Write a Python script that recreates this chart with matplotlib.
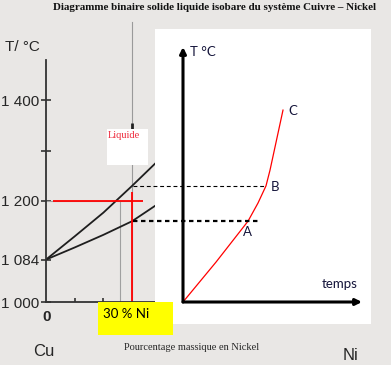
import matplotlib
matplotlib.use("Agg")
import matplotlib.pyplot as plt
from matplotlib.patches import Rectangle

W, H = 391, 365

# phase diagram (wt % Ni, T in degC)
ni_pct = [0, 10, 20, 30, 40]
liquidus = [1084, 1130, 1177, 1230, 1285]
solidus = [1084, 1108, 1133, 1160, 1198]
y_ticks = [1000, 1084, 1200, 1300, 1400]
y_labels = ["1 000", "1 084", "1 200", "", "1 400"]
x_ticks = [10, 20]
c_alloy = 30
t_mark = 1200

# cooling curve (arbitrary time units, T in degC)
temps = [0, 3.3, 6.5, 7.5, 8.3, 8.7, 10.0]
temp_curve = [1000, 1079, 1160, 1196, 1230, 1261, 1380]
t_A, T_A = 6.5, 1160
t_B, T_B = 8.3, 1230

BG = "#e9e7e5"
DARK = "#262626"
NAVY = "#14143a"


def px_box(x0, y0, x1, y1):
    return [x0 / W, 1 - y1 / H, (x1 - x0) / W, (y1 - y0) / H]


def add_rect(x0, y0, x1, y1, color, z):
    b = px_box(x0, y0, x1, y1)
    fig.add_artist(Rectangle((b[0], b[1]), b[2], b[3], transform=fig.transFigure,
                             facecolor=color, edgecolor="none", zorder=z))


fig = plt.figure(figsize=(W / 100, H / 100), dpi=100, facecolor=BG)

# ---- scanned binary diagram ----
ax1 = fig.add_axes(px_box(46, 60, 391, 302))
ax1.set_zorder(0)
ax1.patch.set_visible(False)
ax1.set_xlim(0, 345 / 2.87)
ax1.set_ylim(1000, 1000 + 242 / 0.505)
for s in ["top", "right"]:
    ax1.spines[s].set_visible(False)
for s in ["left", "bottom"]:
    ax1.spines[s].set_color("#333333")
    ax1.spines[s].set_linewidth(1.3)
ax1.spines["bottom"].set_bounds(0, 38)
ax1.set_yticks(y_ticks)
ax1.set_yticklabels(y_labels, family="Liberation Sans", fontsize=11, color=DARK)
ax1.set_xticks(x_ticks)
ax1.set_xticklabels([])
ax1.tick_params(axis="y", direction="inout", length=7, width=1.2, color="#333333", pad=1.5)
ax1.tick_params(axis="x", direction="in", length=3, width=1.2, color="#333333")
ax1.plot(0, 1, marker="^", ms=4, color="#333333", transform=ax1.get_yaxis_transform(), clip_on=False)

ax1.axvline(c_alloy, ymin=0, ymax=(302 - 22) / 242, color="#9a9a9a", lw=0.8, clip_on=False)
ax1.vlines(25.8, 1000, t_mark, color="#a0a0a0", lw=0.8)
ax1.hlines(t_mark, 0, c_alloy, color="#a0a0a0", lw=0.8)
ax1.vlines(c_alloy, 1335, 1355, color="#222222", lw=2)
ax1.plot(ni_pct, liquidus, color="#1e1e1e", lw=1.3)
ax1.plot(ni_pct, solidus, color="#1e1e1e", lw=1.3)
ax1.hlines(t_mark, 2.4, 33.8, color="red", lw=1.3)
ax1.vlines(c_alloy, 1000, 1218, color="red", lw=1.3)

fig.text(5 / W, 1 - 47 / H, "T/ °C", family="Liberation Sans", fontsize=11, color=DARK, va="center")
fig.text(47 / W, 1 - 317 / H, "0", family="Liberation Sans", fontsize=11, fontweight="bold",
         color=DARK, ha="center", va="center")
fig.text(44 / W, 1 - 352 / H, "Cu", family="Liberation Sans", fontsize=12, color=DARK, ha="center", va="center")
fig.text(351 / W, 1 - 355 / H, "Ni", family="Liberation Sans", fontsize=12, color=DARK, ha="center", va="center")
fig.text(192 / W, 1 - 347 / H, "Pourcentage massique en Nickel", family="Liberation Serif", fontsize=7.5,
         color=DARK, ha="center", va="center")
fig.text(215 / W, 1 - 8 / H, "Diagramme binaire solide liquide isobare du système Cuivre – Nickel",
         family="Liberation Serif", fontweight="bold", fontsize=7.9, color="#111111", ha="center", va="center")

# "Liquide" label box
add_rect(107, 129, 148, 165, "white", 0.5)
fig.text(108 / W, 1 - 136 / H, "Liquide", family="Liberation Serif", fontsize=7.5, color="#ee2a3c",
         va="center", zorder=0.6)

# white overlay panel
add_rect(155, 29, 371, 324, "white", 1)

# yellow note
add_rect(98, 302, 173, 335, "#ffff00", 3)
fig.text(126 / W, 1 - 314 / H, "30 % Ni", family="Lato", fontsize=9.5, color="black",
         ha="center", va="center", zorder=4)

# ---- temperature curve ----
ax2 = fig.add_axes(px_box(183, 47, 362, 302))
ax2.set_zorder(2)
ax2.set_xlim(0, 17.9)
ax2.set_ylim(1000, 1000 + 255 / 0.505)
ax2.axis("off")
ax2.annotate("", xy=(0, 1), xytext=(0, 0), xycoords="axes fraction",
             arrowprops=dict(arrowstyle="-|>", lw=2.2, color="black", mutation_scale=9, shrinkA=0, shrinkB=0))
ax2.annotate("", xy=(1, 0), xytext=(0, 0), xycoords="axes fraction",
             arrowprops=dict(arrowstyle="-|>", lw=2.2, color="black", mutation_scale=9, shrinkA=0, shrinkB=0))
ax2.plot(temps, temp_curve, color="red", lw=0.9)
ax2.hlines(T_B, -5, t_B, color="black", lw=0.8, linestyles=(0, (3.5, 2.5)), clip_on=False)
ax2.hlines(T_A, -5, 7.8, color="black", lw=1.6, linestyles=(0, (2, 1.6)), clip_on=False)

ax2.text(6.4, 1139, "A", family="Lato", fontsize=9.5, color=NAVY, ha="center", va="center")
ax2.text(9.2, 1228, "B", family="Lato", fontsize=9.5, color=NAVY, ha="center", va="center")
ax2.text(11.0, 1378, "C", family="Lato", fontsize=9.5, color=NAVY, ha="center", va="center")
ax2.text(0.7, 1495, "T °C", family="Lato", fontsize=9.5, color=NAVY, ha="left", va="center")
ax2.text(15.7, 1036, "temps", family="Lato", fontsize=9.5, color=NAVY, ha="center", va="center")

fig.savefig("out.png", dpi=100, facecolor=BG)
